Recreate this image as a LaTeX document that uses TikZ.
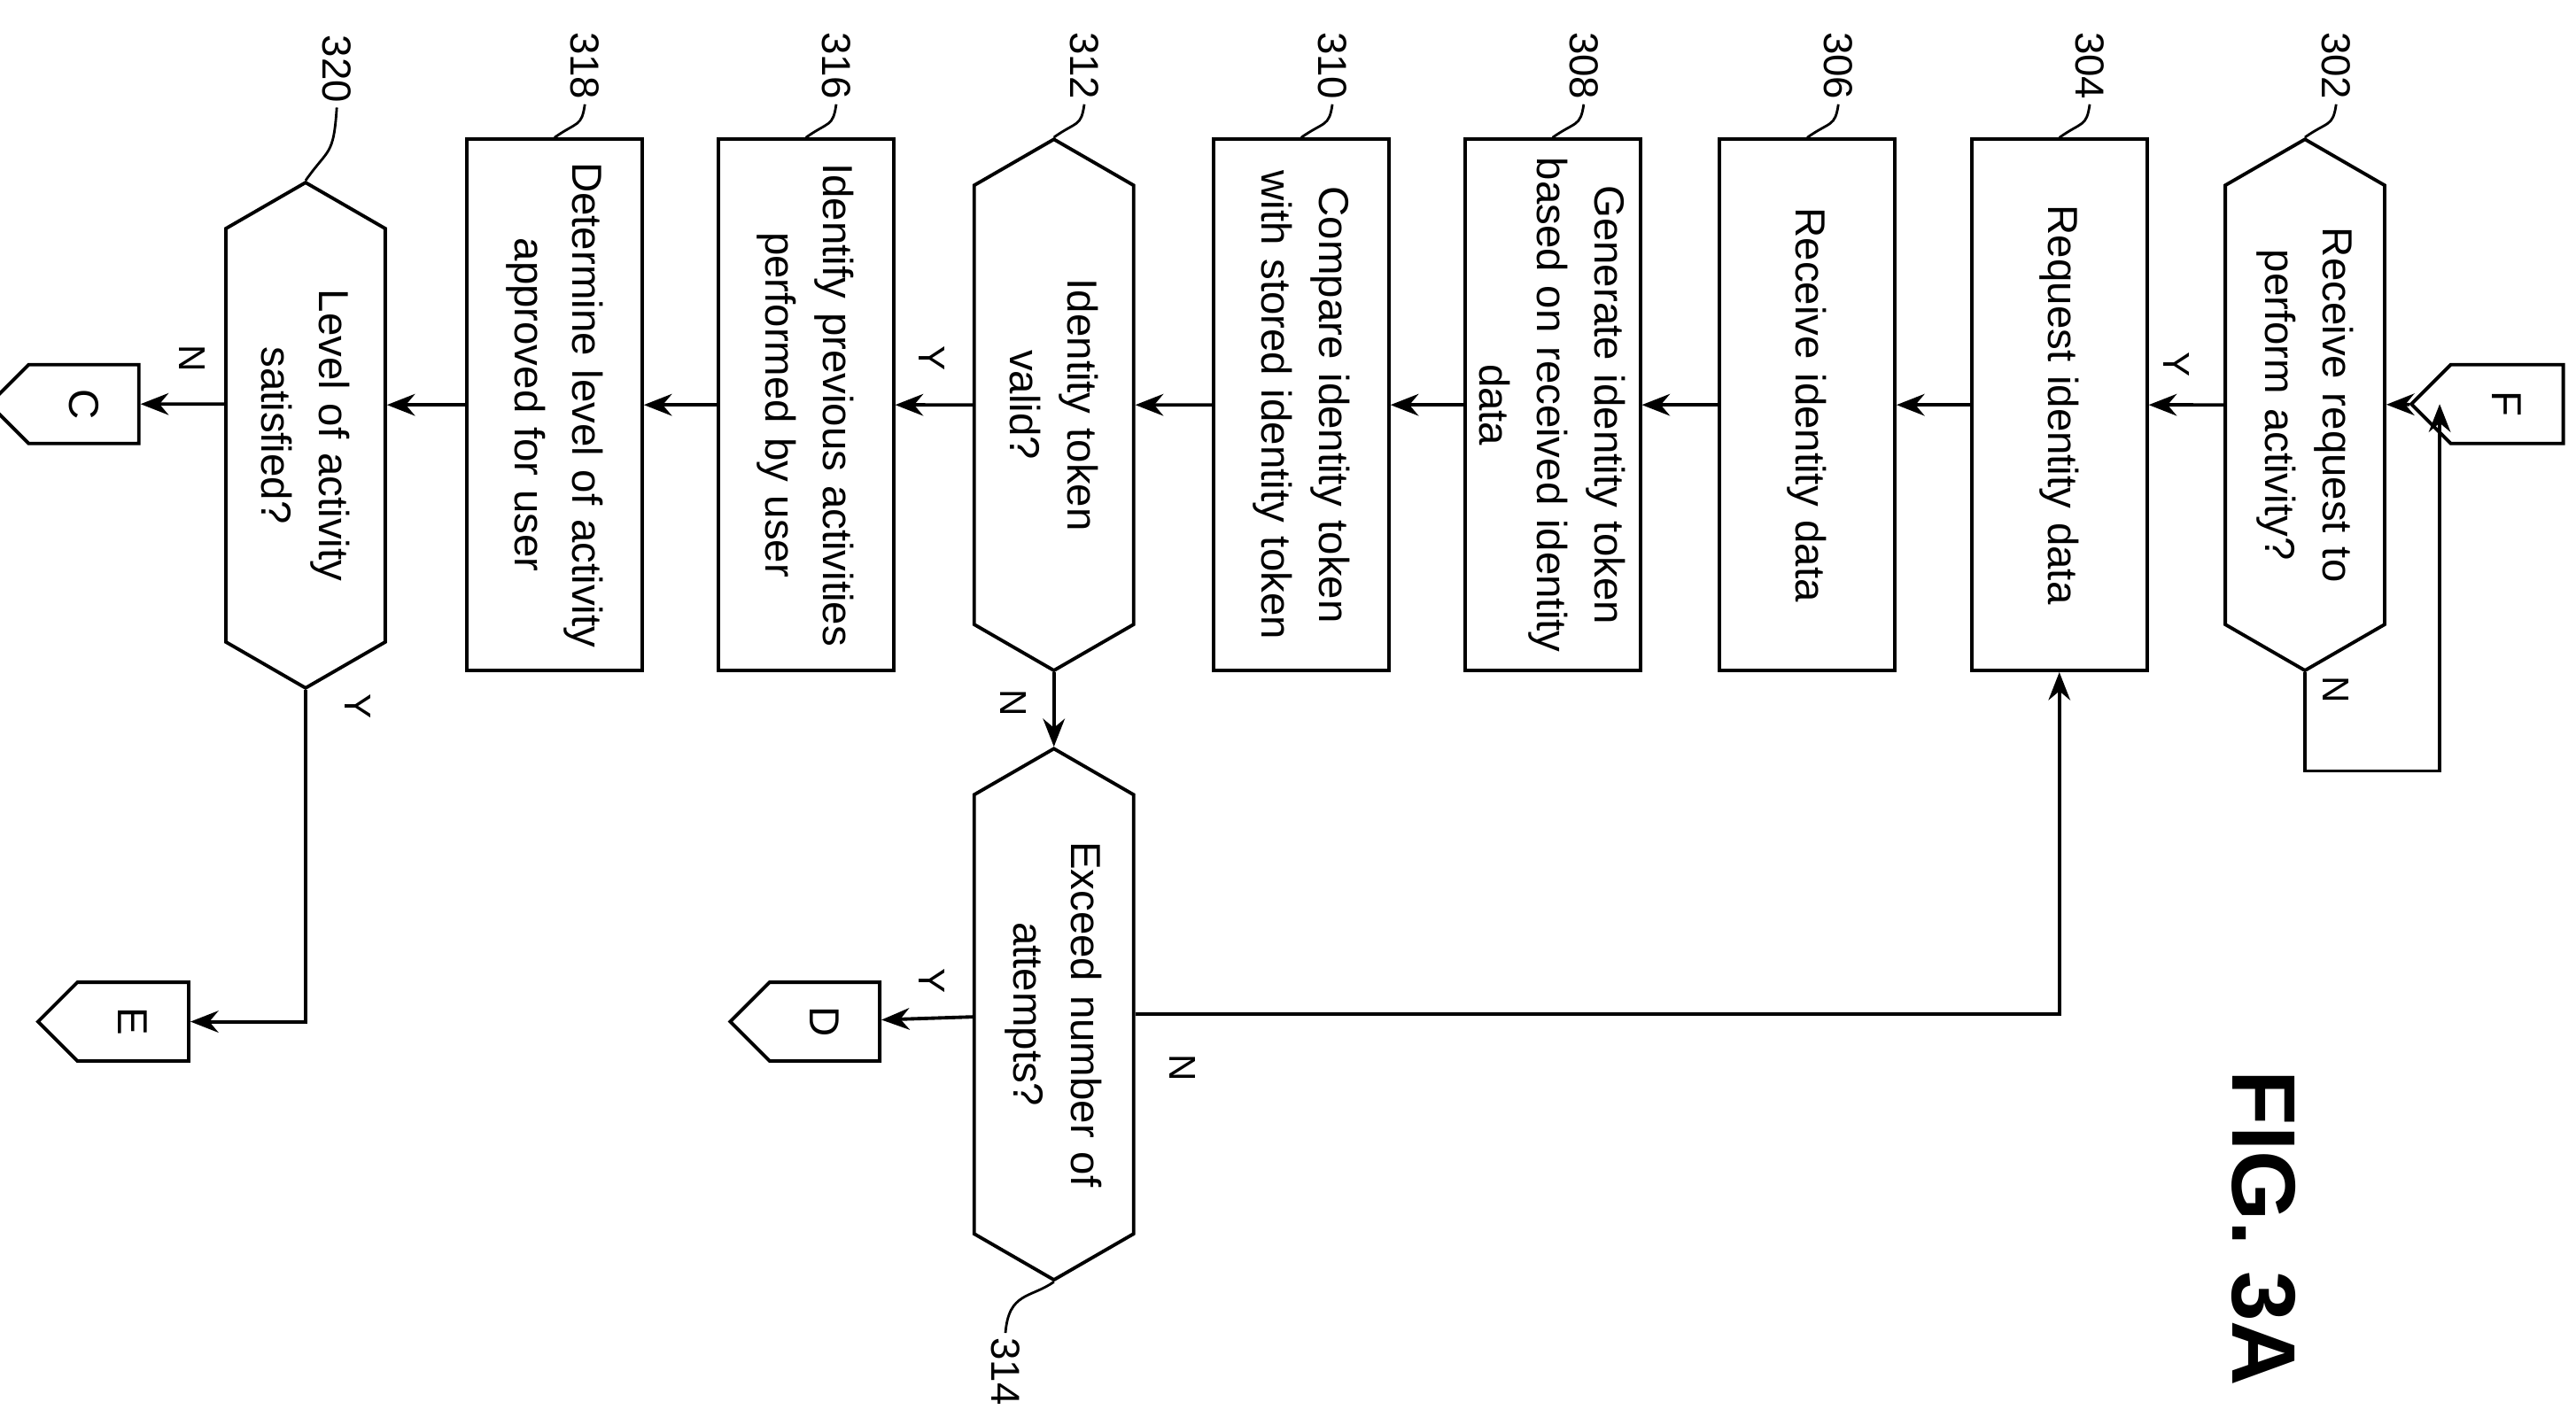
\documentclass[tikz,border=0pt]{standalone}
\usepackage{fontspec}
\setmainfont{Liberation Sans}
\usetikzlibrary{shapes.symbols,positioning,arrows.meta,calc}

\begin{document}
\begin{tikzpicture}[x=0.01855cm,y=-0.01855cm,
            line width=1.1pt,
            font=\fontsize{13.5}{18.5}\selectfont,
            box/.style={rectangle, draw, rotate=-90, minimum width=6cm, minimum height=1.98cm, text width=5.6cm, align=center, inner sep=2pt},
            dec/.style={signal, signal to=east and west, signal pointer angle=120, draw, rotate=-90, minimum width=6cm, minimum height=1.8cm, text width=4.6cm, align=center, inner sep=1pt},
            page/.style={signal, signal to=south, signal pointer angle=90, draw, rotate=-90, minimum width=0.89cm, minimum height=1.45cm, inner sep=1pt},
            yn/.style={rotate=-90, font=\fontsize{12}{14}\selectfont},
            num/.style={rotate=-90, font=\fontsize{13}{15}\selectfont, inner sep=1pt},
            arr/.style={-{Stealth[length=9pt,width=7pt]}}
        ]
            \useasboundingbox (0,0) rectangle (1568,867.4);
            % decisions and steps
            \node[dec] (d302) at (1403,246.5) {Receive request to\\perform activity?};
            \node[box] (b304) at (1253.5,246.5) {Request identity data};
            \node[box] (b306) at (1100,246.5) {Receive identity data};
            \node[box] (b308) at (945,246.5) {Generate identity token\\based on received identity\\data};
            \node[box] (b310) at (792,246.5) {Compare identity token\\with stored identity token};
            \node[dec] (d312) at (641.5,246.5) {Identity token\\valid?};
            \node[dec] (d314) at (641.5,617.5) {Exceed number of\\attempts?};
            \node[box] (b316) at (490.5,246.5) {Identify previous activities\\performed by user};
            \node[box] (b318) at (337.5,246.5) {Determine level of activity\\approved for user};
            \node[dec, minimum width=5.3cm] (d320) at (186,265) {Level of activity\\satisfied?};
            % off-page connectors
            \node[page] (F) at (1526,246) {F};
            \node[page] (C) at (51,246) {C};
            \node[page] (D) at (502,622) {D};
            \node[page] (E) at (81,622) {E};
            \coordinate (loop) at (1485,246);

            \draw[arr] (F) -- (d302);
            \draw[arr] (d302.east) -- ++(0,60) -| (loop);
            \draw[arr] (d302) -- (b304);
            \draw[arr] (b304) -- (b306);
            \draw[arr] (b306) -- (b308);
            \draw[arr] (b308) -- (b310);
            \draw[arr] (b310) -- (d312);
            \draw[arr] (d312) -- (b316);
            \draw[arr] (d312.east) -- (d314.west);
            \draw[arr] (d314) -| (b304);
            \draw[arr] (d314) -- (D);
            \draw[arr] (b316) -- (b318);
            \draw[arr] (b318) -- (b318 -| d320.north);
            \draw[arr] (C -| d320.south) -- (C);
            \draw[arr] (d320.east) |- (E);

            % branch labels
            \node[yn] at (1422,420) {N};
            \node[yn] at (1325,222) {Y};
            \node[yn] at (567,218) {Y};
            \node[yn] at (617,428) {N};
            \node[yn] at (720,650) {N};
            \node[yn] at (567,597) {Y};
            \node[yn] at (117,218) {N};
            \node[yn] at (218,430) {Y};

            % reference numerals
            \foreach \n/\x/\t in {302/1422/d302, 304/1272/b304, 306/1119/b306, 308/964/b308, 310/811/b310, 312/660/d312, 316/509/b316, 318/356/b318}{
                \node[num] (r\n) at (\x,40) {\n};
                \draw[line width=0.8pt] (r\n.east) .. controls +(-2,14) and +(14,-10) .. (\t.west);
            }
            \node[num] (r320) at (205,42) {320};
            \draw[line width=0.8pt] (r320.east) .. controls +(-2,30) and +(14,-20) .. (d320.west);
            \node[num] (r314) at (612,835) {314};
            \draw[line width=0.8pt] (r314.west) .. controls +(2,-25) and +(-14,10) .. (d314.east);

            \node[rotate=-90, font=\bfseries\fontsize{29}{34}\selectfont] at (1378,748) {FIG. 3A};
        \end{tikzpicture}
\end{document}
